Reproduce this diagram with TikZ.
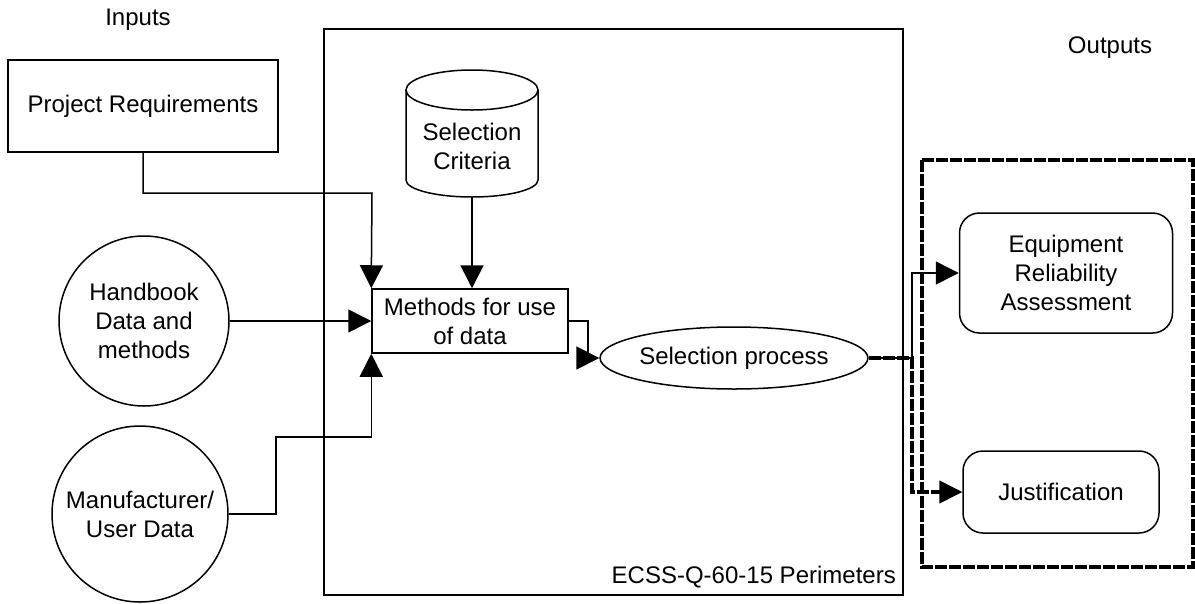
\documentclass[tikz,border=0pt]{standalone}
\usepackage{fontspec}
\setmainfont{Liberation Sans}
\usetikzlibrary{arrows.meta,shapes.geometric}
\begin{document}
\begin{tikzpicture}[x=1pt,y=-1pt,
  every node/.style={font=\fontsize{24}{29}\selectfont, align=center, inner sep=0pt},
  ln/.style={line width=1.5pt},
  arr/.style={ln, -{Triangle[length=23pt,width=23pt]}},
  box/.style={draw, ln},
  rbox/.style={draw, ln, rounded corners=20pt},
  thickdash/.style={line width=4pt, dash pattern=on 12pt off 2pt},
]
\useasboundingbox (0,0) rectangle (1195,603);

% headings
\node (inputs) at (138,20) {Inputs};
\node (outputs) at (1110,48) {Outputs};

% standard perimeter
\draw[ln] (324,29) rectangle (903,595);
\node[anchor=east] (perim) at (896,577) {ECSS-Q-60-15 Perimeters};

% output group
\draw[thickdash] (922,160) rectangle (1193,567);

% inputs
\node[box, minimum width=270pt, minimum height=92pt] (pr) at (143,106) {Project Requirements};
\node[draw, ln, circle, minimum size=170pt] (hb) at (144,321) {Handbook\\Data and\\methods};
\node[draw, ln, circle, minimum size=176pt] (man) at (140,514) {Manufacturer/\\User Data};

% selection criteria store
\draw[ln] (472,90) ellipse [x radius=66, y radius=20];
\draw[ln] (406,90) -- (406,180) arc[start angle=180, end angle=0, x radius=66, y radius=17] -- (538,90);
\node[minimum width=132pt, minimum height=102pt] (crit) at (472,146) {Selection\\Criteria};

% process
\node[box, minimum width=196pt, minimum height=64pt] (meth) at (470,321) {Methods for use\\of data};
\node[draw, ln, ellipse, minimum width=247pt, minimum height=62pt] (sel) at (734,358) {Selection process};

% outputs
\node[rbox, minimum width=213pt, minimum height=120pt] (eq) at (1066,273) {Equipment\\Reliability\\Assessment};
\node[rbox, minimum width=196pt, minimum height=82pt] (just) at (1061,492) {Justification};

% connectors
\coordinate (k1) at (372,193);
\draw[arr] (pr.south) |- (k1) -- (meth.north west);
\draw[arr] (crit.south) -- (crit.south |- meth.north);
\draw[arr] (hb.east) -- (hb.east -| meth.west);
\coordinate (k2) at (276,437);
\draw[arr] (man.east) -| (k2) -| (meth.south west);
\draw[arr] (meth.east) -- ++(19,0) |- (sel.west);
\coordinate (split) at (912,358);
\draw[arr] (sel.east) -- (split) |- (eq.west);
\draw[thickdash, -{Triangle[length=23pt,width=23pt,line width=1.5pt]}] (sel.east) -- (split) |- (just.west);
\end{tikzpicture}
\end{document}
